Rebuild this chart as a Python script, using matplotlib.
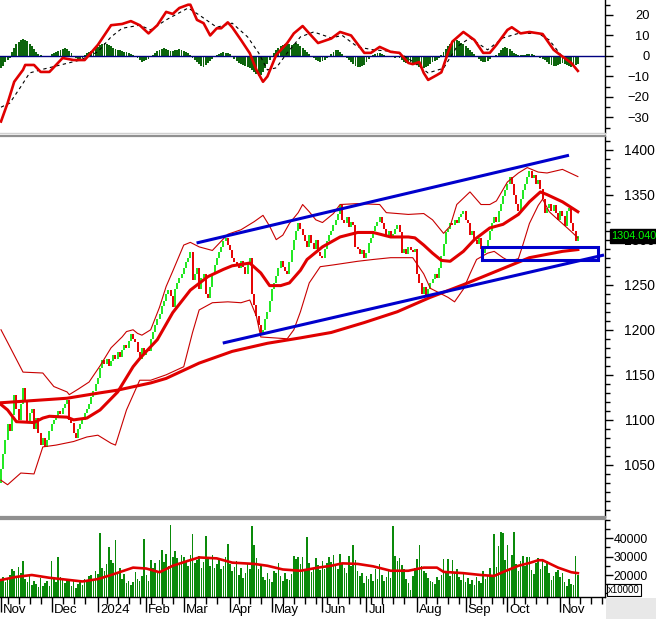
import numpy as np
import matplotlib
matplotlib.use('Agg')
import matplotlib.pyplot as plt
from matplotlib.patches import Rectangle
from matplotlib.transforms import blended_transform_factory as btf
from matplotlib.ticker import MultipleLocator, FixedLocator

plt.rcParams['font.family'] = ['Liberation Sans', 'DejaVu Sans']

# ---------------- data ----------------
first_open = 1030
close = [1045, 1062, 1078, 1095, 1088, 1105, 1128, 1112, 1100, 1118, 1135,
         1122, 1098, 1108, 1112, 1090, 1102, 1085, 1072, 1080, 1070, 1078, 1088,
         1095, 1100, 1104, 1110, 1107, 1113, 1118, 1122,
         1100, 1096, 1085, 1080, 1090, 1095, 1100, 1108, 1112, 1118,
         1125, 1132, 1140, 1146, 1158, 1166, 1162, 1168, 1160, 1165,
         1172, 1168, 1175, 1170, 1178, 1183, 1180, 1188, 1195, 1190,
         1186, 1175, 1168, 1180, 1172, 1178, 1176, 1190, 1198, 1205,
         1212, 1218, 1226, 1232, 1240, 1244, 1238, 1225, 1245, 1252,
         1258, 1262, 1268, 1275, 1280, 1286, 1255, 1262, 1268, 1245,
         1258, 1262, 1240, 1235, 1248, 1262, 1272, 1280, 1286, 1292,
         1298, 1302, 1294, 1288, 1280, 1275, 1272, 1268, 1276, 1270,
         1262, 1275, 1280, 1240, 1228, 1215, 1205, 1196, 1200, 1212,
         1220, 1232, 1245, 1252, 1260, 1268, 1276, 1270, 1265, 1262,
         1275, 1288, 1300, 1310, 1318, 1312, 1305, 1298, 1292, 1305,
         1296, 1290, 1300, 1286, 1282, 1280, 1290, 1298, 1305, 1310,
         1316, 1322, 1328, 1338, 1322, 1318, 1325, 1314, 1320, 1316,
         1292, 1290, 1284, 1288, 1280, 1285, 1296, 1302, 1310, 1315,
         1320, 1325, 1318, 1312, 1305, 1310, 1302, 1306, 1312, 1316,
         1308, 1285, 1290, 1284, 1292, 1288, 1286, 1290, 1262, 1252,
         1240, 1248, 1236, 1245, 1252, 1256, 1262, 1258, 1268, 1282,
         1295, 1308, 1312, 1318, 1316, 1322, 1318, 1325, 1328, 1332,
         1322, 1318, 1305, 1310, 1300, 1295, 1302, 1290, 1285, 1292,
         1300, 1310, 1318, 1325, 1320, 1332, 1340, 1348, 1355, 1362,
         1370, 1362, 1350, 1340, 1332, 1345, 1355, 1362, 1370, 1376,
         1368, 1372, 1362, 1366, 1356, 1345, 1330, 1335, 1340, 1332,
         1338, 1330, 1322, 1332, 1326, 1315, 1332, 1335, 1318, 1310,
         1298, 1304.04]

volume = [17500, 19000, 16000, 18500, 20000,
          23500, 22000, 19000, 24500,
          21000, 27500, 18000,
          16000, 20500, 14500, 17000, 15000, 13500, 18500, 14000, 15500, 16500, 14000,
          27500, 18000, 16000, 29500, 19000, 17500, 15500, 18000,
          16500, 14000, 17000, 13000, 15000, 16500, 14500, 18000, 16000, 19500,
          20000, 17500, 22000, 20500, 42500, 24000, 22000, 26000, 35000, 28000,
          26500, 39000, 21000, 24000, 18000, 20500, 15500, 17000, 14500, 16000,
          21500, 18000, 16500, 19500, 39500, 20000, 17000, 28000, 24000, 26500,
          22000, 28000, 33500, 27000, 31500, 25000, 47000, 30000, 33000, 29000,
          26000, 31000, 29500, 27000, 25000, 31000, 42000, 26500, 28000, 30500,
          24000, 27000, 41000, 29000, 25000, 31000, 24000, 26000, 28000, 23500,
          25000, 29500, 37000, 26000, 22000, 24500, 27500, 20000, 24000, 18500,
          21000, 26000, 23000, 46500, 36000, 29000, 23000, 25500, 19000, 17500,
          21000, 18000, 16000, 22000, 21000, 26500, 19500, 17000, 21000, 18000,
          17500, 20500, 30500, 28500, 30000, 26000, 29500, 22000, 40500, 26500,
          21500, 24000, 29000, 25500, 22500, 27500, 23000, 26500, 29500, 27000,
          31000, 25500, 23000, 31500, 26000, 24000, 21000, 30500, 25000, 36500,
          28000, 22000, 19500, 21000, 15500, 19500, 18000, 20500, 16500, 23000,
          18000, 26000, 20000, 17000, 19000, 22000, 18500, 46500, 30500, 27500,
          29000, 25500, 23000, 18000, 15500, 12000, 19500, 24000, 28500, 36500,
          25000, 22000, 21000, 18500, 17000, 16000, 15000, 19000, 17500, 20000,
          28500, 22000, 28500, 19500, 28000, 21000, 23500, 19000, 17500, 21500,
          16000, 18500, 15000, 17500, 14500, 19000, 16500, 15500, 22000, 18000,
          19500, 24000, 19000, 42000, 24500, 35500, 43500, 42500, 28000, 36000,
          24000, 31000, 43000, 26000, 22000, 27500, 30500, 25000, 30000, 29500,
          22500, 20500, 26500, 29000, 23000, 28500, 25000, 27500, 21000, 17500,
          19500, 21500, 22500, 19000, 21000, 16000, 14000, 18000, 15000, 14500,
          30500, 20000]

vol_ma_x = [0, 7, 14, 22, 37, 44, 50, 55, 60, 66, 72, 78, 85, 90, 98, 105, 115, 121,
            128, 136, 144, 150, 155, 162, 169, 177, 185, 192, 198, 201, 210, 218, 224,
            228, 235, 240, 244, 246, 253, 259, 262]
vol_ma_y = [17300, 19000, 20000, 18500, 16500, 17800, 20000, 22000, 24000, 23500, 21500,
            25000, 27700, 29500, 29000, 26700, 26000, 25000, 23000, 22300, 24000, 25000,
            26300, 26000, 24700, 22300, 22300, 24000, 24000, 21700, 21000, 20000, 19500,
            21600, 25000, 26500, 28000, 28000, 24000, 21500, 21000]

ma20_x = [0, 3, 7, 15, 19, 22, 30, 33, 39, 45, 53, 60, 63, 66, 71, 78, 86, 94, 101,
          105, 113, 118, 122, 127, 131, 136, 139, 146, 154, 162, 169, 177, 185, 188,
          192, 196, 200, 204, 210, 215, 222, 228, 235, 240, 245, 248, 255, 262]
ma20_y = [1117, 1111, 1098, 1097, 1102, 1104, 1103, 1100, 1102, 1111, 1131, 1159, 1168,
          1176, 1189, 1219, 1244, 1259, 1267, 1271, 1274, 1263, 1249, 1249, 1252, 1266,
          1278, 1292, 1303, 1308, 1308, 1303, 1303, 1302, 1294, 1285, 1277, 1276, 1287,
          1300, 1313, 1317, 1328, 1342, 1353, 1350, 1342, 1331]

ma200_x = [0, 30, 45, 53, 68, 75, 90, 105, 121, 136, 150, 165, 180, 195, 210, 225, 240, 255, 262]
ma200_y = [1119, 1124, 1130, 1133, 1141, 1146, 1163, 1176, 1185, 1191, 1197, 1208, 1220,
           1236, 1250, 1265, 1280, 1287, 1289]

bb_up_x = [0, 3, 10, 19, 24, 30, 31, 35, 40, 45, 50, 55, 57, 60, 62, 64, 68, 72, 75, 78,
           83, 86, 90, 96, 103, 109, 115, 119, 122, 125, 128, 131, 135, 137, 140, 143,
           146, 151, 154, 162, 172, 175, 185, 192, 196, 201, 204, 207, 213, 218, 222,
           225, 230, 235, 239, 244, 248, 255, 262]
bb_up_y = [1200, 1186, 1153, 1152, 1137, 1131, 1128, 1134, 1142, 1160, 1180, 1192, 1198,
           1200, 1196, 1194, 1200, 1225, 1248, 1265, 1294, 1297, 1292, 1288, 1306, 1311,
           1320, 1327, 1315, 1300, 1305, 1318, 1330, 1339, 1331, 1322, 1319, 1329, 1339,
           1340, 1339, 1330, 1328, 1329, 1322, 1307, 1315, 1339, 1353, 1339, 1339, 1343,
           1364, 1374, 1380, 1375, 1374, 1378, 1370]

bb_lo_x = [0, 3, 9, 15, 19, 25, 33, 39, 44, 50, 52, 57, 63, 68, 75, 83, 87, 90, 96, 103,
           109, 113, 116, 118, 124, 130, 133, 136, 140, 145, 151, 162, 169, 177, 187,
           192, 195, 203, 206, 210, 213, 216, 221, 224, 228, 231, 235, 237, 240, 244,
           246, 249, 254, 259, 262]
bb_lo_y = [1033, 1028, 1041, 1040, 1070, 1072, 1076, 1081, 1083, 1074, 1072, 1111, 1144,
           1144, 1150, 1159, 1197, 1222, 1230, 1231, 1230, 1233, 1215, 1192, 1191, 1190,
           1200, 1220, 1252, 1270, 1272, 1276, 1278, 1280, 1280, 1262, 1246, 1236, 1231,
           1245, 1262, 1278, 1285, 1287, 1280, 1276, 1279, 1294, 1318, 1338, 1345, 1331,
           1320, 1309, 1302]

macd_hist = [-6, -5, -3, -2, -1, 2, 4, 6, 7, 8, 8.5, 8, 7.5, 6, 5, 3.5, 2,
             1, 0.5, 0, -0.5, -0.5, 0,
             1, 1.5, 2, 2.5, 3, 3.5, 3.7, 3.2, 2.5, 1.5,
             0, -1, -2, -1.5, -1, 0.5, 1.5, 2, 2.5,
             3, 4, 4.5, 5.5, 6, 6.5, 6, 5.5, 5,
             4, 3.5, 3, 3, 2.5, 2, 2, 1.5, 1, 0.5, 0,
             -1, -2, -2.8, -2.5, -2, -1.5, -0.5,
             0.5, 1.5, 2.5, 3, 3.5, 4, 3.5, 3, 2.5,
             2.5, 3, 3, 3.2, 3, 2.5, 2, 1.5, 0.5,
             -1, -2, -3, -4, -5, -5.2, -4.5, -3.5, -2.5, -1.5,
             -0.5, 0.5, 1, 1.5, 2, 1.6, 1.5, 1, 0,
             -1.5, -2.5, -3.5, -4, -4.5, -5, -5.5, -6, -7,
             -8, -9, -10, -9.5, -8, -6, -4, -2, 0,
             1.5, 3, 4, 5, 5.5, 6, 6.5, 6, 5.5, 6, 6.5, 6, 5, 4, 3, 2,
             1, 0, -1, -2, -2.5, -2.8, -2.5, -2, -1, 0,
             1, 2, 3, 3, 2, 1, 0, -1, -2, -3,
             -4, -5, -5.5, -5.5, -5, -4.5, -3, -1.5,
             0, 0.5, 1, 1.5, 1.5, 1, 0.5, 0,
             0, -0.5, -0.5, -1, -0.5, -1,
             -2, -3, -3.5, -3.5, -3, -3.5, -4, -4.5,
             -5.5, -6, -6, -5.5, -5, -4, -3, -2.5, -2, -1,
             0.5, 2, 3.5, 5, 6, 7, 7.5, 7.8, 7.5, 6.5, 6, 5, 4, 3,
             2, 1, 0, -1.5, -2.5, -3, -3, -2.5, -1.5, -0.5, 0, 0.5,
             1.5, 3, 4, 4.4, 4, 3.5, 2.5, 1.5, 1, 0.5, 0.5, 0.5,
             0.5, 1, 1, 1, 0.5, 0, -0.5, -1, -1.5, -2, -3,
             -4, -4.5, -5, -5, -4.5, -4, -3.5, -4, -4.5, -5, -5.5, -5, -4.5, -4]

macd_x = [0, 3, 6, 10, 11, 15, 18, 22, 28, 33, 38, 44, 50, 55, 59, 63, 67, 71, 75, 78,
          81, 85, 86, 89, 92, 95, 98, 100, 103, 105, 109, 113, 116, 119, 121, 125, 130,
          133, 137, 140, 144, 150, 154, 159, 165, 168, 172, 177, 181, 185, 187, 190, 192,
          194, 198, 200, 203, 205, 210, 215, 219, 222, 225, 230, 232, 236, 240, 246, 251,
          254, 259, 262]
macd_y = [-32, -23, -12.6, -6.8, -4.4, -4.4, -7.8, -7.8, -1, -2, -2, 5.4, 15, 15.6, 17,
          15, 11, 15, 21.5, 20.5, 23.4, 25, 25, 17.6, 16, 10, 13.5, 13.5, 16.4, 14, 7.8,
          1.3, -6.8, -12.6, -10, 0.5, 6.3, 11, 14.6, 11, 6.3, 8.5, 11.7, 10, 1.5, 1.5,
          4.4, 2, 1.5, -3.4, -4, -3, -8.3, -11.7, -9.3, -8, 1.5, 7, 11.7, 7.8, 1.5, 1.5,
          5.4, 12.7, 14, 11, 11.7, 10.7, 3, 0.5, -3.4, -7.3]

signal_x = [0, 4, 9, 13, 19, 27, 36, 44, 50, 55, 63, 68, 75, 85, 90, 98, 105, 112, 117,
            121, 125, 130, 136, 142, 150, 155, 162, 169, 180, 186, 194, 201, 207, 213,
            221, 228, 235, 244, 249, 255, 259]
signal_y = [-25, -23, -15, -8.3, -6.5, -4.4, -2, 2, 9.3, 13.5, 15, 12.7, 17.6, 23.4, 20,
            14, 16, 9.3, 1.5, -6.8, -5.8, 1.5, 9.3, 11.7, 8.8, 10, 4.4, 3, 2, -2, -8.3,
            -6, 4.4, 8.8, 3, 8.8, 11, 11, 7.8, -0.5, -3]

month_pos = [0, 23, 44, 66, 83, 104, 123, 146, 166, 189, 211, 230, 254]
month_lab = ['Nov', 'Dec', '2024', 'Feb', 'Mar', 'Apr', 'May', 'Jun', 'Jul', 'Aug',
             'Sep', 'Oct', 'Nov']

chan_up_x = [89.5, 257.3]
chan_up_y = [1296.7, 1393.3]
chan_lo_x = [101.4, 273.2]
chan_lo_y = [1185.6, 1282.6]
box_x = [218.5, 271.0]
box_y = [1277.4, 1291.4]
last_price = 1304.04

# ---------------- figure ----------------
W, H = 656, 619
fig = plt.figure(figsize=(W / 100, H / 100), dpi=100)
fig.patch.set_facecolor('white')


def rect(x0, y0, x1, y1):
    return [x0 / W, 1 - y1 / H, (x1 - x0) / W, (y1 - y0) / H]


ax_m = fig.add_axes(rect(0, 0, 604.5, 133))
ax_p = fig.add_axes(rect(0, 135.5, 604.5, 517))
ax_v = fig.add_axes(rect(0, 519, 604.5, 597))
XL = (-0.45, 274.1)

GREEN = '#1ee81e'
RED = '#e60000'
MA_RED = '#e00000'
BLUE = '#0000cc'

# ---- MACD panel ----
hx = np.arange(len(macd_hist))
ax_m.bar(hx, macd_hist, width=0.85, color='#0d650d', linewidth=0, zorder=2)
ax_m.axhline(0, color='#000080', lw=1.0, zorder=3)
ax_m.plot(signal_x, signal_y, color='black', lw=0.8, dashes=(3, 3), zorder=4)
ax_m.plot(macd_x, macd_y, color=MA_RED, lw=1.9, zorder=5)
ax_m.set_ylim(-37.6, 27.3)
ax_m.yaxis.set_major_locator(FixedLocator([-30, -20, -10, 0, 10, 20]))
ax_m.yaxis.set_minor_locator(MultipleLocator(5))

# ---- price panel ----
c = np.array(close, dtype=float)
o = np.concatenate([[first_open], c[:-1]])
px = np.arange(len(c))
up = c >= o
ax_p.vlines(px[up], o[up], c[up], color=GREEN, lw=1.4, zorder=2)
ax_p.vlines(px[~up], c[~up], o[~up], color=RED, lw=1.4, zorder=2)
ax_p.plot(bb_up_x, bb_up_y, color='#c80000', lw=0.8, zorder=3)
ax_p.plot(bb_lo_x, bb_lo_y, color='#c80000', lw=0.8, zorder=3)
ax_p.plot(ma200_x, ma200_y, color=MA_RED, lw=2.2, zorder=4)
ax_p.plot(ma20_x, ma20_y, color=MA_RED, lw=2.2, zorder=4)
ax_p.plot(chan_up_x, chan_up_y, color=BLUE, lw=2.2, zorder=5)
ax_p.plot(chan_lo_x, chan_lo_y, color=BLUE, lw=2.2, zorder=5)
ax_p.add_patch(Rectangle((box_x[0], box_y[0]), box_x[1] - box_x[0], box_y[1] - box_y[0],
                         fill=False, edgecolor=BLUE, lw=2.2, zorder=5))
ax_p.set_ylim(992.2, 1415.6)
ax_p.yaxis.set_major_locator(FixedLocator([1050, 1100, 1150, 1200, 1250, 1300, 1350, 1400]))
ax_p.yaxis.set_minor_locator(MultipleLocator(10))
ax_p.text(1.0115, last_price, '%.3f' % last_price, transform=btf(ax_p.transAxes, ax_p.transData),
          color='#00ff00', fontsize=7.8, ha='left', va='center', zorder=10, clip_on=False,
          bbox=dict(facecolor='black', edgecolor='black', pad=1.4))

# ---- volume panel ----
vx = np.arange(len(volume))
ax_v.bar(vx, volume, width=0.72, color='#0a8a0a', linewidth=0, zorder=2)
ax_v.plot(vol_ma_x, vol_ma_y, color=MA_RED, lw=1.9, zorder=3)
ax_v.set_ylim(8100, 50300)
ax_v.yaxis.set_major_locator(FixedLocator([20000, 30000, 40000]))
ax_v.yaxis.set_minor_locator(MultipleLocator(5000))

# ---- common styling ----
pads = {ax_m: 26.5, ax_p: 30.3, ax_v: 25.0}
sizes = {ax_m: 9.3, ax_p: 10, ax_v: 8.8}
for ax in (ax_m, ax_p, ax_v):
    ax.set_xlim(XL)
    ax.set_facecolor('white')
    ax.spines['left'].set_visible(False)
    ax.spines['right'].set_color('black')
    ax.spines['right'].set_linewidth(1.0)
    ax.yaxis.tick_right()
    ax.tick_params(axis='y', which='major', direction='out', length=6, width=1,
                   labelsize=sizes[ax], pad=pads[ax], colors='black')
    ax.tick_params(axis='y', which='minor', direction='out', length=3.5, width=1)
    for t in ax.yaxis.get_major_ticks():
        t.label2.set_horizontalalignment('right')
    ax.set_xticks([])

ax_m.spines['top'].set_visible(False)
ax_m.spines['bottom'].set_color('#d0d0d0')
ax_m.spines['bottom'].set_linewidth(1.0)
ax_p.spines['top'].set_color('#909090')
ax_p.spines['top'].set_linewidth(1.6)
ax_p.spines['bottom'].set_color('#909090')
ax_p.spines['bottom'].set_linewidth(1.6)
ax_v.spines['top'].set_color('#909090')
ax_v.spines['top'].set_linewidth(1.6)
ax_v.spines['bottom'].set_color('black')
ax_v.spines['bottom'].set_linewidth(1.0)

# date axis
ax_v.set_xticks(month_pos)
ax_v.set_xticklabels([])
ax_v.xaxis.set_minor_locator(FixedLocator([p for p in range(3, 274, 5)
                                           if min(abs(p - m) for m in month_pos) > 1]))
ax_v.tick_params(axis='x', which='major', direction='out', length=11, width=1, colors='black')
ax_v.tick_params(axis='x', which='minor', direction='out', length=5, width=1, colors='black')
tr = btf(ax_v.transData, ax_v.transAxes)
for p, lab in zip(month_pos, month_lab):
    ax_v.text(p + 0.9, -0.165, lab, transform=tr, fontsize=9.5, ha='left', va='center',
              clip_on=False)

# x10000 box
fig.text(608 / W, 1 - 590 / H, 'x10000', fontsize=7, ha='left', va='center',
         bbox=dict(facecolor='white', edgecolor='black', lw=0.8, pad=0.8))

# gray corner
fig.patches.append(Rectangle((605.5 / W, 0), (W - 605.5) / W, 21 / H,
                             transform=fig.transFigure, facecolor='#e8e8e8',
                             edgecolor='none', zorder=0))

fig.savefig('out.png', dpi=100)
